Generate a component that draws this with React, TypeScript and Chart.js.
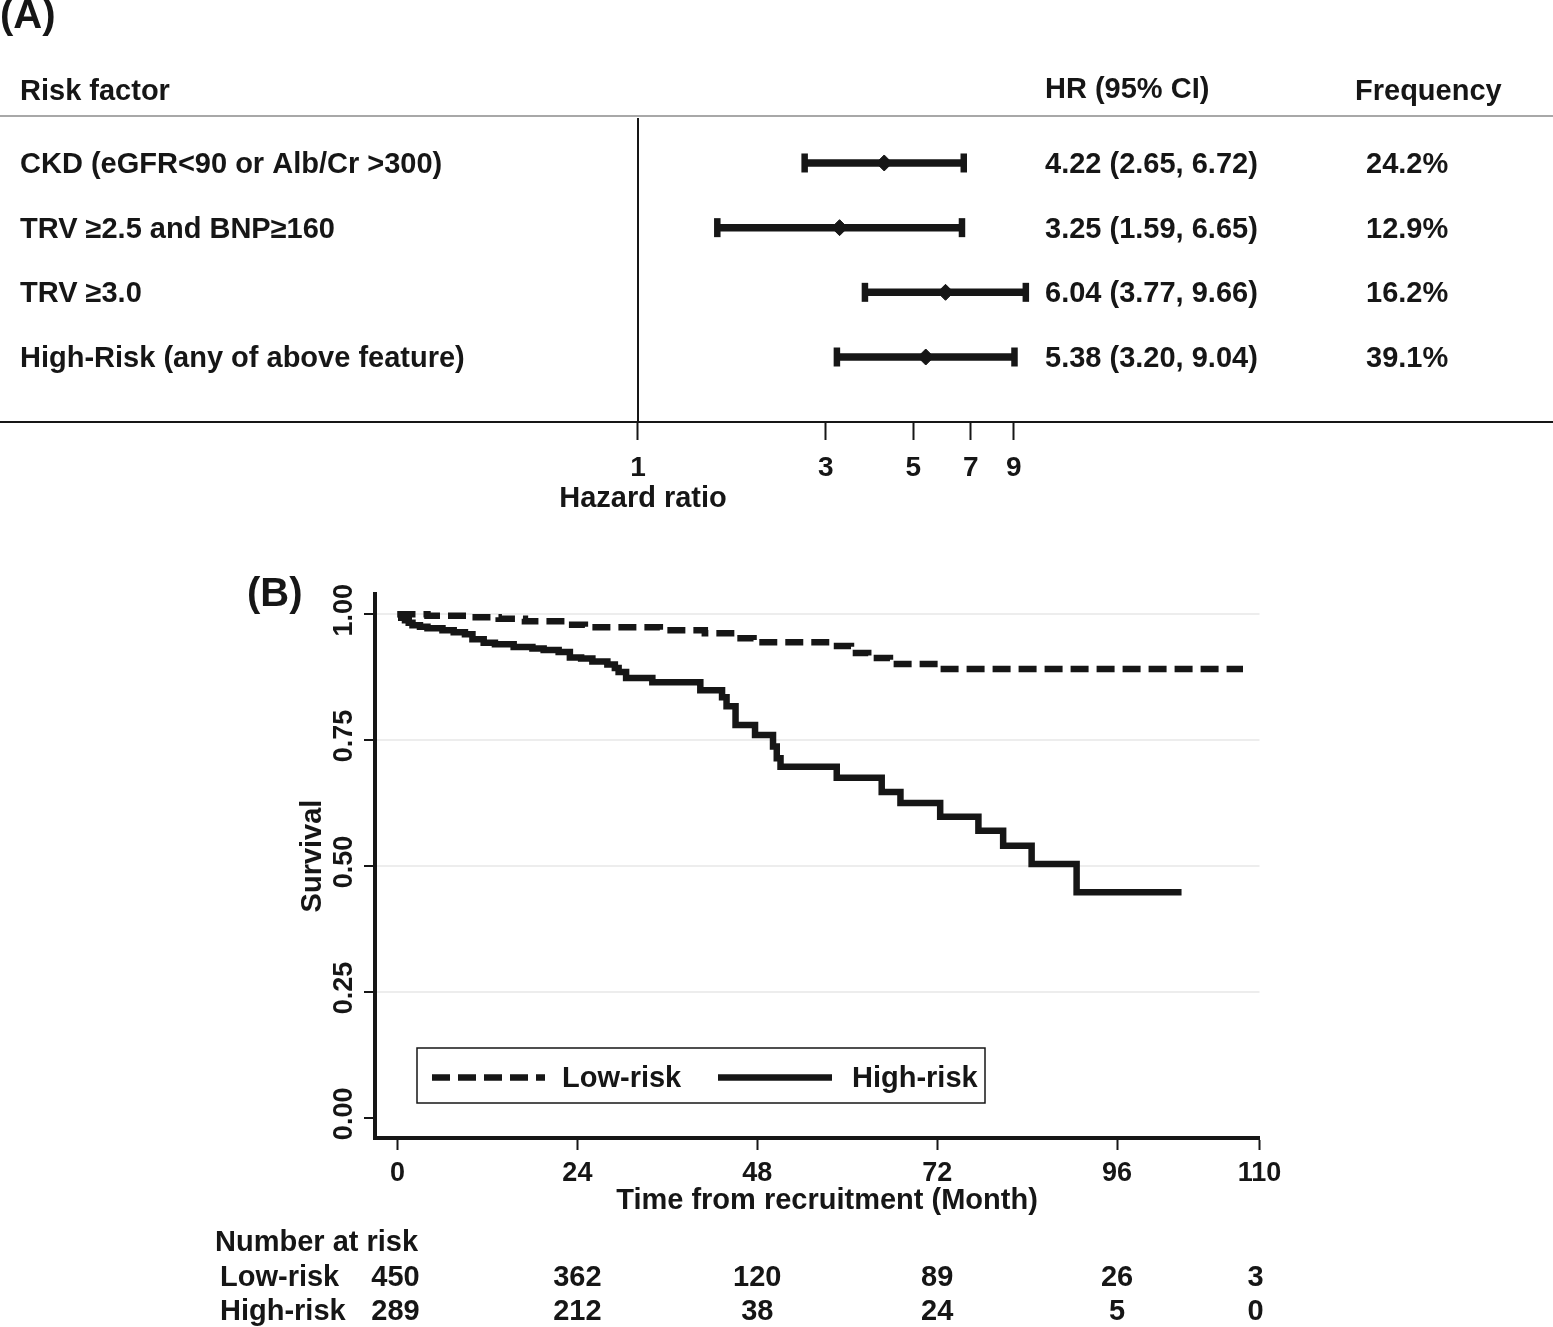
import React, { useEffect, useRef } from 'react';
import { Chart, registerables } from 'chart.js';

Chart.register(...registerables);

const FONT = "'Liberation Sans', Arial, Helvetica, sans-serif";
const INK = '#161616';

// ---------- (A) forest plot data ----------
const forestHeaders = ['Risk factor', 'HR (95% CI)', 'Frequency'];
const riskFactors = [
  'CKD (eGFR<90 or Alb/Cr >300)',
  'TRV \u22652.5 and BNP\u2265160',
  'TRV \u22653.0',
  'High-Risk (any of above feature)',
];
const hazardRatios = [4.22, 3.25, 6.04, 5.38];
const ciLower = [2.65, 1.59, 3.77, 3.2];
const ciUpper = [6.72, 6.65, 9.66, 9.04];
const frequencies = ['24.2%', '12.9%', '16.2%', '39.1%'];
const hrTicks = [1, 3, 5, 7, 9];

// ---------- (B) Kaplan-Meier data ----------
const groupLabels = ['Low-risk', 'High-risk'];
const lowRiskTime = [0, 4, 10, 13.5, 17, 22.5, 25, 35, 41, 45, 47.5, 57.8, 60.5, 62.8, 65.7, 72.1, 112.8];
const lowRiskSurvival = [1.0, 0.997, 0.994, 0.991, 0.986, 0.979, 0.974, 0.968, 0.962, 0.952, 0.944, 0.937, 0.923, 0.913, 0.901, 0.891, 0.891];
const highRiskTime = [0, 0.5, 1, 1.5, 2, 3, 4, 6, 7.5, 9, 10, 11.5, 13, 15.5, 18, 19.5, 21.5, 23, 24.5, 26, 28, 29, 29.5, 30.5, 34, 40.4, 43.3, 43.9, 45.1, 47.7, 50.1, 50.6, 51.1, 58.6, 64.6, 67.1, 72.4, 77.5, 80.8, 84.6, 90.6, 104.6];
const highRiskSurvival = [1.0, 0.993, 0.988, 0.983, 0.978, 0.975, 0.972, 0.968, 0.964, 0.96, 0.95, 0.943, 0.94, 0.935, 0.932, 0.929, 0.925, 0.914, 0.912, 0.906, 0.9, 0.893, 0.885, 0.873, 0.865, 0.849, 0.835, 0.817, 0.78, 0.76, 0.737, 0.714, 0.697, 0.675, 0.647, 0.625, 0.598, 0.57, 0.54, 0.504, 0.448, 0.448];
const timeTicks = [0, 24, 48, 72, 96, 115];
const timeTickLabels = ['0', '24', '48', '72', '96', '110'];
const survivalTicks = [0, 0.25, 0.5, 0.75, 1];
const survivalTickLabels = ['0.00', '0.25', '0.50', '0.75', '1.00'];
const atRiskLow = [450, 362, 120, 89, 26, 3];
const atRiskHigh = [289, 212, 38, 24, 5, 0];

const FOREST_W = 1553;
const FOREST_H = 520;
const KM_TOP = 520;
const KM_H = 1327 - KM_TOP;
const TXT = 29;

const forestPlugin = {
  id: 'forestDecor',
  beforeDatasetsDraw(chart: any) {
    const { ctx, scales, chartArea } = chart;
    const x = scales.x;
    const y = scales.y;
    ctx.save();
    const hy = y.getPixelForValue(0.274);
    ctx.strokeStyle = '#a8a8a8';
    ctx.lineWidth = 2;
    ctx.beginPath();
    ctx.moveTo(0, hy);
    ctx.lineTo(chart.width, hy);
    ctx.stroke();
    const x1 = x.getPixelForValue(1);
    ctx.strokeStyle = INK;
    ctx.lineWidth = 2;
    ctx.beginPath();
    ctx.moveTo(x1, hy + 2);
    ctx.lineTo(x1, chartArea.bottom);
    ctx.stroke();
    ctx.restore();
  },
  afterDraw(chart: any) {
    const { ctx, scales, chartArea } = chart;
    const x = scales.x;
    const y = scales.y;
    ctx.save();
    ctx.fillStyle = INK;
    ctx.textBaseline = 'middle';
    ctx.textAlign = 'left';
    ctx.font = `bold 40px ${FONT}`;
    ctx.fillText('(A)', 0, 17);
    ctx.font = `bold ${TXT}px ${FONT}`;
    const headY = y.getPixelForValue(-0.13) + 2;
    ctx.fillText(forestHeaders[0], 20, headY);
    ctx.fillText(forestHeaders[1], 1045, headY - 2);
    ctx.fillText(forestHeaders[2], 1355, headY);
    riskFactors.forEach((name, i) => {
      const py = y.getPixelForValue(i + 1) + 2;
      ctx.fillText(name, 20, py);
      const txt = `${hazardRatios[i].toFixed(2)} (${ciLower[i].toFixed(2)}, ${ciUpper[i].toFixed(2)})`;
      ctx.fillText(txt, 1045, py);
      ctx.fillText(frequencies[i], 1366, py);
    });
    ctx.textAlign = 'center';
    ctx.fillText('Hazard ratio', x.getPixelForValue(1) + 5, chartArea.bottom + 77);
    ctx.restore();
  },
};

const kmPlugin = {
  id: 'kmDecor',
  afterDraw(chart: any) {
    const { ctx, scales, chartArea } = chart;
    const x = scales.x;
    const y = scales.y;
    ctx.save();
    ctx.fillStyle = INK;
    ctx.textBaseline = 'middle';
    ctx.textAlign = 'left';
    ctx.font = `bold 40px ${FONT}`;
    ctx.fillText('(B)', 247, 75);

    // rotated y tick labels
    ctx.font = `bold 27px ${FONT}`;
    ctx.textAlign = 'center';
    survivalTicks.forEach((v, i) => {
      const py = y.getPixelForValue(v) - 4;
      ctx.save();
      ctx.translate(345, py);
      ctx.rotate(-Math.PI / 2);
      ctx.fillText(survivalTickLabels[i], 0, 0);
      ctx.restore();
    });
    // y title
    ctx.font = `bold ${TXT}px ${FONT}`;
    ctx.save();
    ctx.translate(313, y.getPixelForValue(0.5) - 10);
    ctx.rotate(-Math.PI / 2);
    ctx.fillText('Survival', 0, 0);
    ctx.restore();

    // x title
    ctx.fillText('Time from recruitment (Month)', 827, chartArea.bottom + 63);

    // legend box
    const lx = 417, ly = chartArea.top + (1048 - 594), lw = 568, lh = 55;
    ctx.strokeStyle = INK;
    ctx.lineWidth = 1.5;
    ctx.strokeRect(lx, ly, lw, lh);
    const cy = ly + lh / 2 + 3;
    const samples = [
      { x0: 432, x1: 545, tx: 562 },
      { x0: 718, x1: 832, tx: 852 },
    ];
    chart.data.datasets.forEach((ds: any, i: number) => {
      const s = samples[i];
      ctx.save();
      ctx.strokeStyle = ds.borderColor;
      ctx.lineWidth = ds.borderWidth;
      ctx.lineCap = 'butt';
      ctx.setLineDash(ds.borderDash || []);
      ctx.beginPath();
      ctx.moveTo(s.x0, cy - 1);
      ctx.lineTo(s.x1, cy - 1);
      ctx.stroke();
      ctx.restore();
      ctx.textAlign = 'left';
      ctx.fillText(ds.label, s.tx, cy);
    });

    // number at risk table
    const base = chartArea.bottom;
    ctx.textAlign = 'left';
    ctx.fillText('Number at risk', 215, base + 105);
    ctx.fillText(groupLabels[0], 220, base + 140);
    ctx.fillText(groupLabels[1], 220, base + 174);
    ctx.textAlign = 'center';
    timeTicks.forEach((t, i) => {
      const px = x.getPixelForValue(t) - (i === 0 ? 2 : i === timeTicks.length - 1 ? 4 : 0);
      ctx.fillText(String(atRiskLow[i]), px, base + 140);
      ctx.fillText(String(atRiskHigh[i]), px, base + 174);
    });
    ctx.restore();
  },
};

export default function App() {
  const forestRef = useRef<HTMLCanvasElement | null>(null);
  const kmRef = useRef<HTMLCanvasElement | null>(null);

  useEffect(() => {
    Chart.defaults.font.family = FONT;
    Chart.defaults.font.weight = 'bold' as any;
    Chart.defaults.color = INK;

    const forestDatasets: any[] = riskFactors.map((name, i) => ({
      label: name,
      showLine: true,
      data: [
        { x: ciLower[i], y: i + 1 },
        { x: ciUpper[i], y: i + 1 },
      ],
      borderColor: INK,
      backgroundColor: INK,
      borderWidth: 7.5,
      borderCapStyle: 'butt',
      pointStyle: 'line',
      pointRotation: 90,
      pointRadius: 9.5,
      pointBorderWidth: 6.5,
      pointBorderColor: INK,
      pointHoverRadius: 9.5,
    }));
    forestDatasets.push({
      label: 'HR',
      data: hazardRatios.map((h, i) => ({ x: h, y: i + 1 })),
      pointStyle: 'rectRot',
      pointRadius: 8,
      borderWidth: 1,
      backgroundColor: INK,
      borderColor: INK,
      showLine: false,
    });

    const forest = new Chart(forestRef.current as HTMLCanvasElement, {
      type: 'scatter',
      data: { datasets: forestDatasets },
      options: {
        responsive: false,
        animation: false,
        layout: { padding: 0, autoPadding: false },
        plugins: { legend: { display: false }, tooltip: { enabled: false } },
        scales: {
          x: {
            type: 'logarithmic',
            min: Math.exp(-638 / 171),
            max: Math.exp(915 / 171),
            afterBuildTicks: (s: any) => {
              s.ticks = hrTicks.map((v) => ({ value: v }));
            },
            afterFit: (s: any) => {
              s.height = 98;
            },
            border: { display: true, color: INK, width: 2 },
            grid: { drawOnChartArea: false, drawTicks: true, tickLength: 18, tickColor: INK, tickWidth: 2 },
            ticks: {
              autoSkip: false,
              maxRotation: 0,
              padding: 11,
              color: INK,
              font: { size: 28, weight: 'bold' },
              callback: (v: any) => String(v),
            },
          },
          y: {
            type: 'linear',
            display: false,
            reverse: true,
            min: -1.52,
            max: 5.005,
          },
        },
      } as any,
      plugins: [forestPlugin],
    });

    const km = new Chart(kmRef.current as HTMLCanvasElement, {
      type: 'line',
      data: {
        datasets: [
          {
            label: groupLabels[0],
            data: lowRiskTime.map((t, i) => ({ x: t, y: lowRiskSurvival[i] })),
            stepped: true,
            borderColor: INK,
            borderWidth: 6.5,
            borderDash: [18, 8],
            borderCapStyle: 'butt',
            pointRadius: 0,
            fill: false,
          },
          {
            label: groupLabels[1],
            data: highRiskTime.map((t, i) => ({ x: t, y: highRiskSurvival[i] })),
            stepped: true,
            borderColor: INK,
            borderWidth: 6.5,
            borderCapStyle: 'butt',
            borderJoinStyle: 'miter',
            pointRadius: 0,
            fill: false,
          },
        ],
      },
      options: {
        responsive: false,
        animation: false,
        layout: { padding: { top: 74, right: 1553 - 1259.5, left: 0, bottom: 0 }, autoPadding: false },
        plugins: { legend: { display: false }, tooltip: { enabled: false } },
        scales: {
          x: {
            type: 'linear',
            min: -3,
            max: 115,
            afterBuildTicks: (s: any) => {
              s.ticks = timeTicks.map((v) => ({ value: v }));
            },
            afterFit: (s: any) => {
              s.height = 189;
            },
            border: { display: true, color: INK, width: 4 },
            grid: { drawOnChartArea: false, drawTicks: true, tickLength: 12, tickColor: INK, tickWidth: 2 },
            ticks: {
              autoSkip: false,
              maxRotation: 0,
              padding: 7,
              color: INK,
              font: { size: 27, weight: 'bold' },
              callback: (v: any) => timeTickLabels[timeTicks.indexOf(Number(v))],
            },
          },
          y: {
            type: 'linear',
            min: -0.04,
            max: 1.04,
            afterBuildTicks: (s: any) => {
              s.ticks = survivalTicks.map((v) => ({ value: v }));
            },
            afterFit: (s: any) => {
              s.width = 375;
            },
            border: { display: true, color: INK, width: 4 },
            grid: {
              drawOnChartArea: true,
              drawTicks: true,
              tickLength: 11,
              tickColor: INK,
              tickWidth: 2,
              lineWidth: 2,
              color: (c: any) => (c.tick && c.tick.value === 0 ? 'rgba(0,0,0,0)' : '#ededed'),
            },
            ticks: { display: false },
          },
        },
      } as any,
      plugins: [kmPlugin],
    });

    return () => {
      forest.destroy();
      km.destroy();
    };
  }, []);

  return (
    <div style={{ position: 'absolute', left: 0, top: 0, width: 1553, height: 1327, background: '#fff' }}>
      <canvas
        ref={forestRef}
        width={FOREST_W}
        height={FOREST_H}
        style={{ position: 'absolute', left: 0, top: 0, width: FOREST_W, height: FOREST_H }}
      />
      <canvas
        ref={kmRef}
        width={1553}
        height={KM_H}
        style={{ position: 'absolute', left: 0, top: KM_TOP, width: 1553, height: KM_H }}
      />
    </div>
  );
}
